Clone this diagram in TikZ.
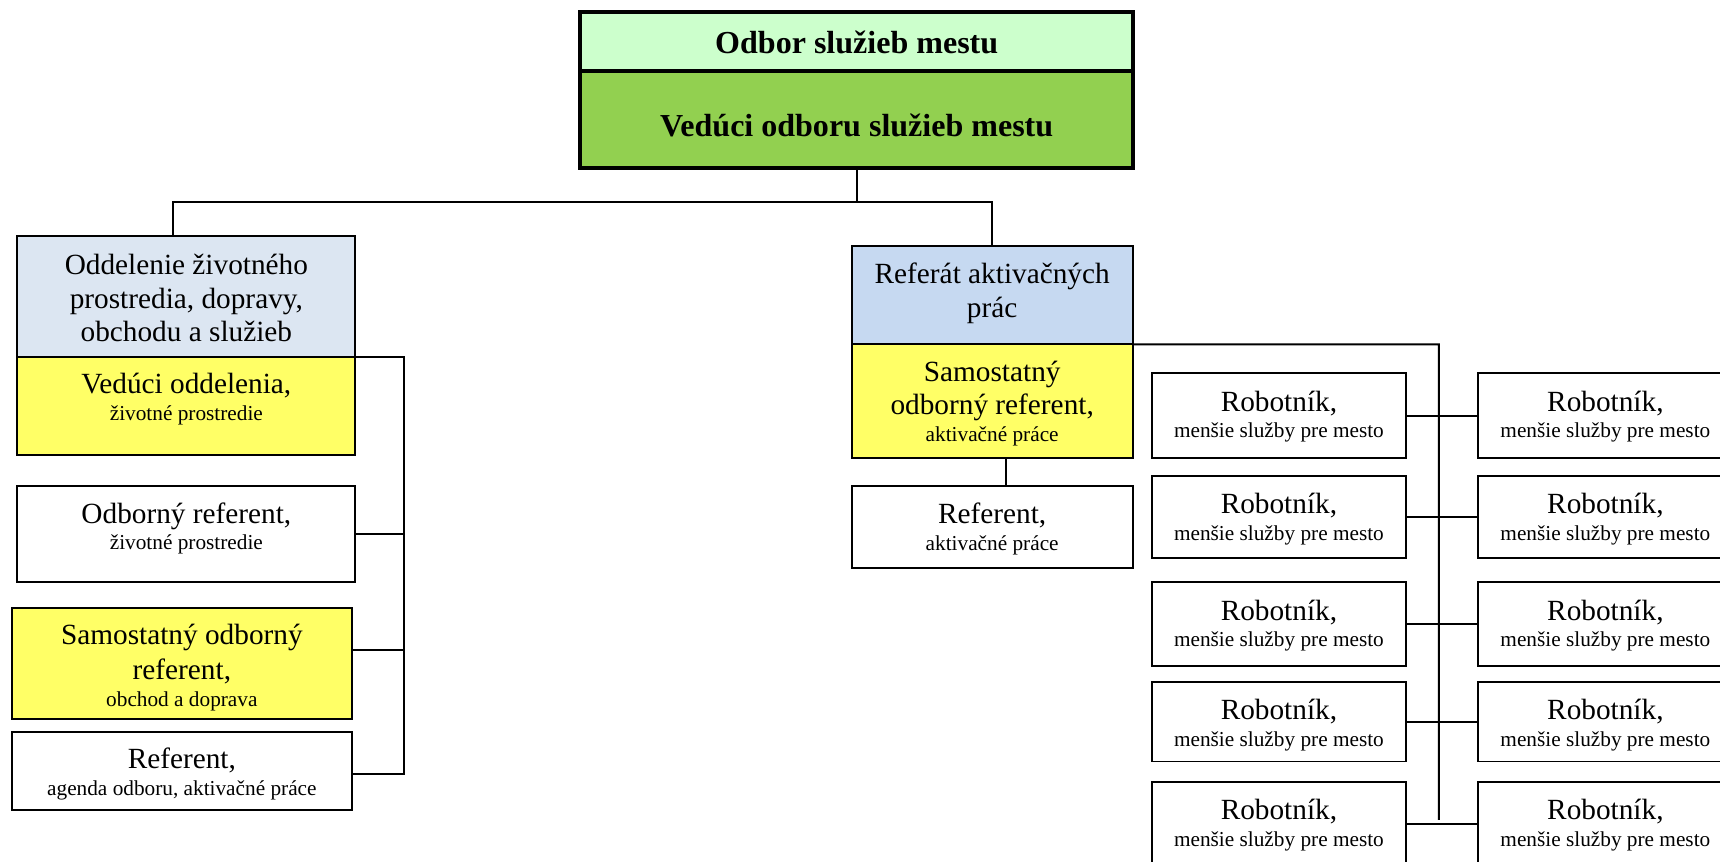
\documentclass[tikz,border=0pt]{standalone}
\usepackage{fontspec}
\setmainfont{Liberation Serif}
\definecolor{hdgreen}{HTML}{CCFFCC}
\definecolor{mgreen}{HTML}{92D050}
\definecolor{greyblue}{HTML}{DCE6F2}
\definecolor{lblue}{HTML}{C6D9F1}
\definecolor{lyellow}{HTML}{FFFF66}
\tikzset{
  box/.style={draw=black, line width=1.8pt, rectangle, inner sep=0pt, outer sep=0pt, anchor=north west},
  topbox/.style={box, line width=3.5pt},
  conn/.style={draw=black, line width=1.7pt},
  big/.style={inner sep=0pt, anchor=base, font=\fontsize{26.7}{30.7}\selectfont},
  small/.style={inner sep=0pt, anchor=base, font=\fontsize{19.4}{22.3}\selectfont},
  boldtxt/.style={inner sep=0pt, anchor=base, font=\fontsize{29.2}{33}\selectfont\bfseries},
}
\begin{document}
\begin{tikzpicture}[x=1pt,y=-1pt]
\useasboundingbox (0,0) rectangle (1568,785);
\fill[white] (0,0) rectangle (1568,785);
\clip (0,0) rectangle (1568,785);

% top box
\node[topbox, fill=hdgreen, minimum width=504, minimum height=54] (odbor) at (529,11) {};
\node[topbox, fill=mgreen, minimum width=504, minimum height=88.4] (vedOdb) at (529,65) {};
\node[boldtxt] (tOdbor) at (781,48.6) {Odbor služieb mestu};
\node[boldtxt] (tVedOdb) at (781,124.6) {Vedúci odboru služieb mestu};

% left column
\node[box, fill=greyblue, minimum width=308.1, minimum height=110] (oddA) at (15.8,215.1) {};
\node[box, fill=lyellow, minimum width=308.1, minimum height=89.7] (vedB) at (15.8,325.1) {};
\node[box, fill=white, minimum width=308.1, minimum height=87.2] (odbC) at (15.8,443) {};
\node[box, fill=lyellow, minimum width=310.3, minimum height=100.8] (samD) at (10.6,554.6) {};
\node[box, fill=white, minimum width=310.3, minimum height=70.8] (refE) at (10.6,667.6) {};

\node[big] (tA1) at (169.9,250) {Oddelenie životného};
\node[big] (tA2) at (169.9,281) {prostredia, dopravy,};
\node[big] (tA3) at (169.9,311.5) {obchodu a služieb};
\node[big] (tB1) at (169.9,358.5) {Vedúci oddelenia,};
\node[small] (tB2) at (169.9,383.5) {životné prostredie};
\node[big] (tC1) at (169.9,477) {Odborný referent,};
\node[small] (tC2) at (169.9,500.8) {životné prostredie};
\node[big] (tD1) at (165.8,587.1) {Samostatný odborný};
\node[big] (tD2) at (165.8,619) {referent,};
\node[small] (tD3) at (165.8,643.6) {obchod a doprava};
\node[big] (tE1) at (165.8,700.4) {Referent,};
\node[small] (tE2) at (165.8,725.3) {agenda odboru, aktivačné práce};

% middle column
\node[box, fill=lblue, minimum width=256.1, minimum height=89.6] (refF) at (776.4,224.3) {};
\node[box, fill=lyellow, minimum width=256.1, minimum height=103.3] (samG) at (776.4,313.9) {};
\node[box, fill=white, minimum width=256.1, minimum height=75.1] (refH) at (776.4,443) {};

\node[big] (tF1) at (904.5,258.3) {Referát aktivačných};
\node[big] (tF2) at (904.5,289.3) {prác};
\node[big] (tG1) at (904.5,347.9) {Samostatný};
\node[big] (tG2) at (904.5,378.3) {odborný referent,};
\node[small] (tG3) at (904.5,402.6) {aktivačné práce};
\node[big] (tH1) at (904.5,477) {Referent,};
\node[small] (tH2) at (904.5,501.4) {aktivačné práce};

% right grid
\coordinate (busR) at (1311.7,313.9);
\coordinate (busRend) at (1311.7,747.3);
\draw[conn] (refF.south east) -- (busR) -- (busRend);
\foreach \i/\t/\h in {1/340.4/76.9, 2/433.7/74.8, 3/531/75.7, 4/621.6/72.6, 5/712.8/76} {
  \node[box, fill=white, minimum width=232.1, minimum height=\h] (robL\i) at (1049.9,\t) {};
  \node[box, fill=white, minimum width=233, minimum height=\h] (robR\i) at (1347,\t) {};
  \node[big] (tLa\i) at (1165.9,{\t+34.4}) {Robotník,};
  \node[small] (tLb\i) at (1165.9,{\t+58.8}) {menšie služby pre mesto};
  \node[big] (tRa\i) at (1463.5,{\t+34.4}) {Robotník,};
  \node[small] (tRb\i) at (1463.5,{\t+58.8}) {menšie služby pre mesto};
  \draw[conn] (robL\i.east) -- (robR\i.west);
}

% top connectors
\coordinate (jTop) at (781,183.8);
\coordinate (jL) at (157.4,183.8);
\coordinate (jR) at (refF.north |- jTop);
\draw[conn] (vedOdb.south) -- (jTop);
\draw[conn] (jL |- oddA.north) -- (jL) -- (jR) -- (refF.north);

% left bus
\coordinate (busL) at (368,325.1);
\coordinate (busLend) at (368,705.9);
\draw[conn] (oddA.south east) -- (busL) -- (busLend) -- ([yshift=-2.9pt]refE.east);
\draw[conn] (odbC.east) -- (odbC.east -| busL);
\draw[conn] ([yshift=12.5pt]samD.east) -- ([yshift=12.5pt]samD.east -| busL);

% G to H
\draw[conn] ([xshift=12.5pt]samG.south) -- ([xshift=12.5pt]refH.north);
\end{tikzpicture}
\end{document}
